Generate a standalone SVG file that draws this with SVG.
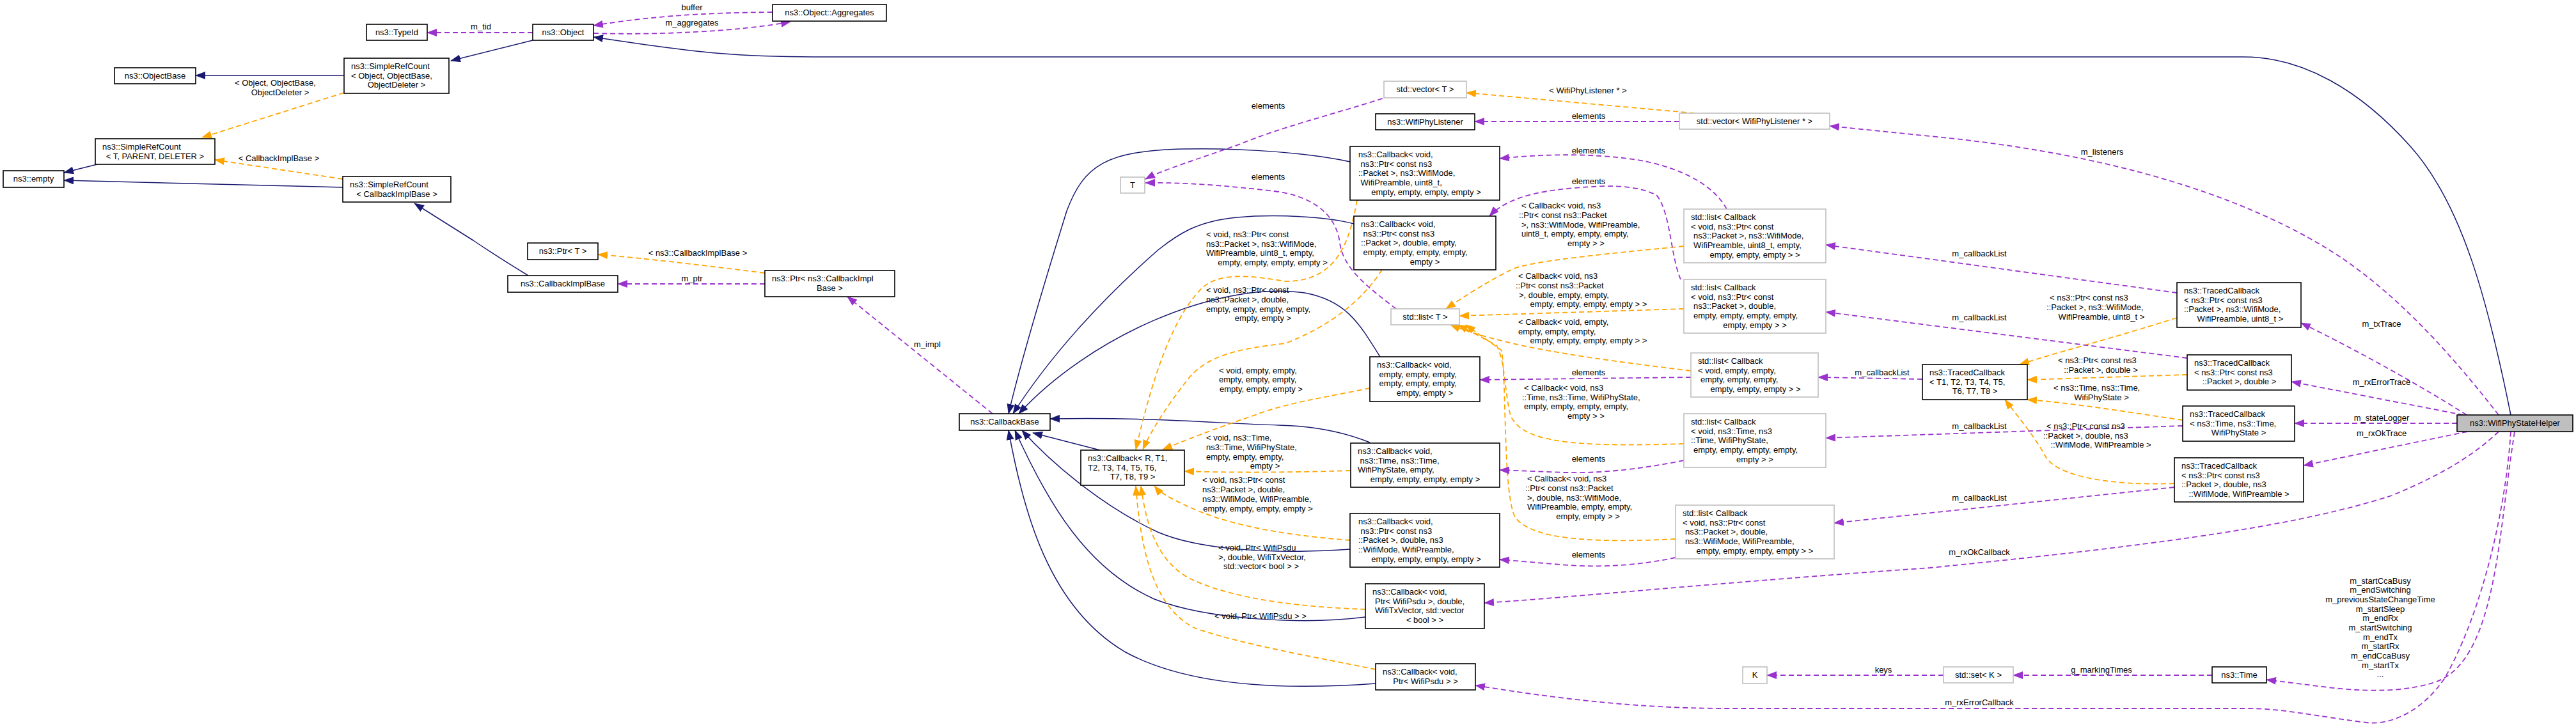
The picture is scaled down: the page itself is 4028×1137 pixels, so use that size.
<svg xmlns="http://www.w3.org/2000/svg" width="4028" height="1137" viewBox="0 0 4028 1137">
<defs>
<style>
text{font-family:"Liberation Sans",Arial,sans-serif;font-size:13px;fill:#000}
.m{text-anchor:middle}
.node rect{fill:#fff;stroke:#000;stroke-width:1.6}
.node.u rect{stroke:#bfbfbf}
.node.me rect{fill:#bfbfbf}
#edges path{fill:none}
.nv{stroke:#191970;stroke-width:1.5;marker-end:url(#aNv)}
.pu{stroke:#9a32cd;stroke-width:1.8;stroke-dasharray:8,5;marker-end:url(#aPu)}
.or{stroke:#ffa500;stroke-width:1.8;stroke-dasharray:8,5;marker-end:url(#aOr)}
</style>
<marker id="aNv" viewBox="0 0 16 12" refX="15" refY="6" markerWidth="16" markerHeight="12" markerUnits="userSpaceOnUse" orient="auto"><path d="M0,0L16,6L0,12z" fill="#191970"/></marker>
<marker id="aPu" viewBox="0 0 16 12" refX="15" refY="6" markerWidth="16" markerHeight="12" markerUnits="userSpaceOnUse" orient="auto"><path d="M0,0L16,6L0,12z" fill="#9a32cd"/></marker>
<marker id="aOr" viewBox="0 0 16 12" refX="15" refY="6" markerWidth="16" markerHeight="12" markerUnits="userSpaceOnUse" orient="auto"><path d="M0,0L16,6L0,12z" fill="#ffa500"/></marker>
</defs>
<rect width="4028" height="1137" fill="#fff"/>

<g id="edges">
<!-- inheritance -->
<path class="nv" d="M538,118L306,118"/>
<path class="nv" d="M833,63L705,95"/>
<path class="nv" d="M152,257L100,270"/>
<path class="nv" d="M536,293L100,282"/>
<path class="nv" d="M826,431C795,412 765,393 740,376L648,318"/>
<path class="nv" d="M3926,649C3890,470 3850,320 3770,230C3690,140 3600,89 3508,89L1277,89C1150,89 1080,80 1010,70L928,58"/>
<path class="nv" d="M2111,253C2050,240 1950,231 1850,233C1730,236 1695,258 1668,330C1640,420 1600,550 1577,647"/>
<path class="nv" d="M2117,350C2080,340 2000,334 1934,340C1870,346 1840,368 1812,390C1720,470 1640,560 1584,647"/>
<path class="nv" d="M2158,558C2125,505 2105,470 2040,458C1900,438 1700,530 1593,647"/>
<path class="nv" d="M2142,692C2100,675 2050,666 2000,665C1900,662 1800,652 1642,655"/>
<path class="nv" d="M2111,859C1980,868 1870,858 1810,832C1720,790 1640,720 1598,673"/>
<path class="nv" d="M2135,965C2040,977 1890,970 1805,937C1700,890 1640,790 1587,673"/>
<path class="nv" d="M2151,1069C2070,1075 1880,1085 1760,1020C1640,950 1600,800 1577,673"/>
<path class="nv" d="M1720,704L1615,677"/>
<!-- template instances -->
<path class="or" d="M538,145L316,215"/>
<path class="or" d="M536,280L336,250"/>
<path class="or" d="M1196,427C1100,415 1000,403 935,398"/>
<path class="or" d="M2650,177L2293,145"/>
<path class="or" d="M2633,385C2500,398 2400,408 2367,420C2330,438 2295,460 2261,483"/>
<path class="or" d="M2633,483L2282,494"/>
<path class="or" d="M2644,580C2500,562 2360,545 2268,508"/>
<path class="or" d="M2633,694C2450,700 2380,690 2362,650C2352,610 2354,565 2340,540L2280,508"/>
<path class="or" d="M2620,843C2480,850 2395,842 2370,810C2350,780 2356,600 2348,548L2292,508"/>
<path class="or" d="M2122,313C2110,380 2090,440 2010,440C1960,432 1910,424 1880,450C1830,500 1800,600 1776,703"/>
<path class="or" d="M2161,422C2130,470 2080,510 2010,537C1940,545 1890,555 1860,590C1820,640 1797,680 1787,703"/>
<path class="or" d="M2142,607C2080,620 2010,630 1960,650C1900,670 1850,690 1818,703"/>
<path class="or" d="M2112,736C2050,738 1950,740 1852,737"/>
<path class="or" d="M2111,845C2050,840 1950,830 1876,800C1840,785 1815,772 1805,760"/>
<path class="or" d="M2135,953C2050,950 1930,940 1857,903C1800,870 1790,800 1784,760"/>
<path class="or" d="M2151,1047C2070,1030 1950,1010 1870,983C1800,950 1783,850 1776,760"/>
<path class="or" d="M3404,497C3300,530 3220,550 3158,570"/>
<path class="or" d="M3420,586L3170,594"/>
<path class="or" d="M3413,657C3330,645 3240,630 3170,625"/>
<path class="or" d="M3400,756C3300,760 3215,745 3198,713C3180,680 3150,645 3135,625"/>
<!-- usage -->
<path class="pu" d="M833,51L668,51"/>
<path class="pu" d="M1208,19C1100,20 1020,25 928,40"/>
<path class="pu" d="M928,52C1000,54 1060,52 1120,48C1170,44 1205,40 1236,34"/>
<path class="pu" d="M1196,444L966,444"/>
<path class="pu" d="M1552,647L1325,464"/>
<path class="pu" d="M2162,154C2080,180 2000,200 1940,225C1870,250 1820,265 1791,280"/>
<path class="pu" d="M2183,483C2140,450 2100,420 2095,380C2090,340 2060,310 2000,300C1920,290 1850,285 1791,286"/>
<path class="pu" d="M2626,190L2306,190"/>
<path class="pu" d="M2700,327C2680,290 2630,262 2560,250C2480,238 2400,242 2345,248"/>
<path class="pu" d="M2628,437C2612,400 2612,330 2590,305C2560,290 2520,290 2490,292C2420,296 2360,305 2329,338"/>
<path class="pu" d="M2644,590L2314,594"/>
<path class="pu" d="M2633,720C2560,735 2500,740 2450,739L2345,735"/>
<path class="pu" d="M2620,872C2560,885 2500,888 2440,883L2345,875"/>
<path class="pu" d="M3404,458L2855,383"/>
<path class="pu" d="M3420,560L2855,488"/>
<path class="pu" d="M3006,593L2843,590"/>
<path class="pu" d="M3413,666L2855,685"/>
<path class="pu" d="M3400,762L2868,818"/>
<path class="pu" d="M3907,649C3830,550 3740,450 3636,387C3500,305 3300,240 3018,213L2861,197"/>
<path class="pu" d="M3857,649C3780,600 3680,545 3598,505"/>
<path class="pu" d="M3852,649L3583,597"/>
<path class="pu" d="M3842,662L3588,662"/>
<path class="pu" d="M3858,675L3602,728"/>
<path class="pu" d="M3907,675C3860,720 3800,750 3740,775C3600,820 3400,850 3018,888C2700,910 2450,935 2321,943"/>
<path class="pu" d="M3932,675C3925,720 3920,760 3915,800C3900,920 3880,1040 3810,1066C3760,1083 3700,1082 3640,1075L3544,1063"/>
<path class="pu" d="M3926,675C3918,800 3880,960 3823,1060C3790,1110 3740,1135 3700,1130C3620,1120 3570,1108 3514,1108L2700,1108C2550,1108 2420,1090 2307,1072"/>
<path class="pu" d="M3459,1056L3148,1056"/>
<path class="pu" d="M3039,1056L2763,1056"/>
</g>

<g id="edge-labels">
<text class="m" x="752" y="46">m_tid</text>
<text class="m" x="1082" y="16">buffer</text>
<text class="m" x="1082" y="40">m_aggregates</text>
<text x="367" y="134">&lt; Object, ObjectBase,</text>
<text class="m" x="438" y="149">ObjectDeleter &gt;</text>
<text class="m" x="436" y="252">&lt; CallbackImplBase &gt;</text>
<text class="m" x="1091" y="400">&lt; ns3::CallbackImplBase &gt;</text>
<text class="m" x="1082" y="440">m_ptr</text>
<text class="m" x="1450" y="543">m_impl</text>
<text class="m" x="1983" y="170">elements</text>
<text class="m" x="1983" y="281">elements</text>
<text class="m" x="2483" y="146">&lt; WifiPhyListener * &gt;</text>
<text class="m" x="2484" y="186">elements</text>
<text class="m" x="2484" y="240">elements</text>
<text class="m" x="2484" y="288">elements</text>
<text><tspan x="2379" y="326">&lt; Callback&lt; void, ns3</tspan><tspan x="2375" y="341">::Ptr&lt; const ns3::Packet</tspan><tspan x="2379" y="356">&gt;, ns3::WifiMode, WifiPreamble,</tspan><tspan x="2379" y="370">uint8_t, empty, empty, empty,</tspan><tspan class="m" x="2480" y="385">empty &gt; &gt;</tspan></text>
<text><tspan x="2374" y="436">&lt; Callback&lt; void, ns3</tspan><tspan x="2370" y="451">::Ptr&lt; const ns3::Packet</tspan><tspan x="2375" y="466">&gt;, double, empty, empty,</tspan><tspan class="m" x="2484" y="480">empty, empty, empty, empty &gt; &gt;</tspan></text>
<text><tspan x="2374" y="508">&lt; Callback&lt; void, empty,</tspan><tspan x="2374" y="523">empty, empty, empty,</tspan><tspan class="m" x="2484" y="537">empty, empty, empty, empty &gt; &gt;</tspan></text>
<text class="m" x="2484" y="587">elements</text>
<text><tspan x="2383" y="611">&lt; Callback&lt; void, ns3</tspan><tspan x="2380" y="626">::Time, ns3::Time, WifiPhyState,</tspan><tspan x="2383" y="640">empty, empty, empty, empty,</tspan><tspan class="m" x="2480" y="655">empty &gt; &gt;</tspan></text>
<text class="m" x="2484" y="722">elements</text>
<text><tspan x="2388" y="753">&lt; Callback&lt; void, ns3</tspan><tspan x="2385" y="768">::Ptr&lt; const ns3::Packet</tspan><tspan x="2388" y="783">&gt;, double, ns3::WifiMode,</tspan><tspan x="2388" y="797">WifiPreamble, empty, empty,</tspan><tspan class="m" x="2483" y="812">empty, empty &gt; &gt;</tspan></text>
<text class="m" x="2484" y="872">elements</text>
<text><tspan x="1886" y="371">&lt; void, ns3::Ptr&lt; const</tspan><tspan x="1886" y="386">ns3::Packet &gt;, ns3::WifiMode,</tspan><tspan x="1886" y="400">WifiPreamble, uint8_t, empty,</tspan><tspan class="m" x="1990" y="415">empty, empty, empty, empty &gt;</tspan></text>
<text><tspan x="1886" y="458">&lt; void, ns3::Ptr&lt; const</tspan><tspan x="1886" y="473">ns3::Packet &gt;, double,</tspan><tspan x="1886" y="488">empty, empty, empty, empty,</tspan><tspan class="m" x="1975" y="502">empty, empty &gt;</tspan></text>
<text><tspan x="1906" y="584">&lt; void, empty, empty,</tspan><tspan x="1906" y="598">empty, empty, empty,</tspan><tspan class="m" x="1972" y="613">empty, empty, empty &gt;</tspan></text>
<text><tspan x="1886" y="689">&lt; void, ns3::Time,</tspan><tspan x="1886" y="704">ns3::Time, WifiPhyState,</tspan><tspan x="1886" y="719">empty, empty, empty,</tspan><tspan class="m" x="1978" y="733">empty &gt;</tspan></text>
<text><tspan x="1880" y="755">&lt; void, ns3::Ptr&lt; const</tspan><tspan x="1880" y="770">ns3::Packet &gt;, double,</tspan><tspan x="1880" y="785">ns3::WifiMode, WifiPreamble,</tspan><tspan class="m" x="1967" y="800">empty, empty, empty, empty &gt;</tspan></text>
<text><tspan x="1905" y="861">&lt; void, Ptr&lt; WifiPsdu</tspan><tspan x="1905" y="876">&gt;, double, WifiTxVector,</tspan><tspan class="m" x="1972" y="890">std::vector&lt; bool &gt; &gt;</tspan></text>
<text x="1899" y="968">&lt; void, Ptr&lt; WifiPsdu &gt; &gt;</text>
<text class="m" x="3095" y="401">m_callbackList</text>
<text class="m" x="3095" y="501">m_callbackList</text>
<text class="m" x="2943" y="587">m_callbackList</text>
<text class="m" x="3095" y="671">m_callbackList</text>
<text class="m" x="3095" y="783">m_callbackList</text>
<text><tspan x="3205" y="470">&lt; ns3::Ptr&lt; const ns3</tspan><tspan x="3200" y="485">::Packet &gt;, ns3::WifiMode,</tspan><tspan class="m" x="3286" y="500">WifiPreamble, uint8_t &gt;</tspan></text>
<text><tspan x="3218" y="568">&lt; ns3::Ptr&lt; const ns3</tspan><tspan class="m" x="3285" y="583">::Packet &gt;, double &gt;</tspan></text>
<text><tspan x="3211" y="611">&lt; ns3::Time, ns3::Time,</tspan><tspan class="m" x="3286" y="626">WifiPhyState &gt;</tspan></text>
<text><tspan x="3200" y="671">&lt; ns3::Ptr&lt; const ns3</tspan><tspan x="3195" y="686">::Packet &gt;, double, ns3</tspan><tspan class="m" x="3285" y="700">::WifiMode, WifiPreamble &gt;</tspan></text>
<text class="m" x="3287" y="242">m_listeners</text>
<text class="m" x="3724" y="511">m_txTrace</text>
<text class="m" x="3724" y="602">m_rxErrorTrace</text>
<text class="m" x="3724" y="658">m_stateLogger</text>
<text class="m" x="3724" y="682">m_rxOkTrace</text>
<text class="m" x="3095" y="868">m_rxOkCallback</text>
<text class="m" x="3722"><tspan x="3722" y="913">m_startCcaBusy</tspan><tspan x="3722" y="927">m_endSwitching</tspan><tspan x="3722" y="942">m_previousStateChangeTime</tspan><tspan x="3722" y="957">m_startSleep</tspan><tspan x="3722" y="971">m_endRx</tspan><tspan x="3722" y="986">m_startSwitching</tspan><tspan x="3722" y="1001">m_endTx</tspan><tspan x="3722" y="1015">m_startRx</tspan><tspan x="3722" y="1030">m_endCcaBusy</tspan><tspan x="3722" y="1045">m_startTx</tspan><tspan x="3722" y="1059">...</tspan></text>
<text class="m" x="3286" y="1052">g_markingTimes</text>
<text class="m" x="2945" y="1052">keys</text>
<text class="m" x="3095" y="1103">m_rxErrorCallback</text>
</g>

<g id="n_typeid" class="node"><rect x="573" y="38" width="95" height="25"/><text class="m" x="620.5" y="55">ns3::TypeId</text></g>
<g id="n_object" class="node"><rect x="833" y="38" width="95" height="25"/><text class="m" x="880.5" y="55">ns3::Object</text></g>
<g id="n_aggregates" class="node"><rect x="1208" y="7" width="178" height="26"/><text class="m" x="1297" y="24">ns3::Object::Aggregates</text></g>
<g id="n_objectbase" class="node"><rect x="179" y="106" width="127" height="25"/><text class="m" x="242.5" y="123">ns3::ObjectBase</text></g>
<g id="n_src_object" class="node"><rect x="538" y="91" width="164" height="55"/><text x="549" y="108">ns3::SimpleRefCount</text><text x="549" y="122.7">&lt; Object, ObjectBase,</text><text class="m" x="620" y="137.4">ObjectDeleter &gt;</text></g>
<g id="n_src_t" class="node"><rect x="149" y="217" width="187" height="40"/><text x="160" y="234">ns3::SimpleRefCount</text><text class="m" x="242.5" y="248.7">&lt; T, PARENT, DELETER &gt;</text></g>
<g id="n_empty" class="node"><rect x="5" y="267" width="95" height="26"/><text class="m" x="52.5" y="284">ns3::empty</text></g>
<g id="n_src_cib" class="node"><rect x="536" y="276" width="169" height="40"/><text x="547" y="293">ns3::SimpleRefCount</text><text class="m" x="620.5" y="307.7">&lt; CallbackImplBase &gt;</text></g>
<g id="n_ptr_t" class="node"><rect x="825" y="380" width="110" height="26"/><text class="m" x="880" y="397">ns3::Ptr&lt; T &gt;</text></g>
<g id="n_callbackimplbase" class="node"><rect x="794" y="431" width="172" height="26"/><text class="m" x="880" y="448">ns3::CallbackImplBase</text></g>
<g id="n_ptr_cib" class="node"><rect x="1196" y="423" width="203" height="41"/><text x="1207" y="440">ns3::Ptr&lt; ns3::CallbackImpl</text><text class="m" x="1297.5" y="454.7">Base &gt;</text></g>
<g id="n_callbackbase" class="node"><rect x="1500" y="647" width="142" height="26"/><text class="m" x="1571" y="664">ns3::CallbackBase</text></g>
<g id="n_callback_r" class="node"><rect x="1690" y="704" width="162" height="55"/><text x="1701" y="721">ns3::Callback&lt; R, T1,</text><text x="1701" y="735.7">T2, T3, T4, T5, T6,</text><text class="m" x="1771" y="750.4">T7, T8, T9 &gt;</text></g>
<g id="n_t" class="node u"><rect x="1752" y="277" width="38" height="25"/><text class="m" x="1771" y="294">T</text></g>
<g id="n_vector_t" class="node u"><rect x="2164" y="127" width="129" height="26"/><text class="m" x="2228.5" y="144">std::vector&lt; T &gt;</text></g>
<g id="n_wifiphylistener" class="node"><rect x="2151" y="178" width="155" height="25"/><text class="m" x="2228.5" y="195">ns3::WifiPhyListener</text></g>
<g id="n_vector_wpl" class="node u"><rect x="2626" y="177" width="235" height="25"/><text class="m" x="2743.5" y="194">std::vector&lt; WifiPhyListener * &gt;</text></g>
<g id="n_cb_a" class="node"><rect x="2111" y="229" width="234" height="84"/><text x="2124" y="246">ns3::Callback&lt; void,</text><text x="2127.6" y="260.7">ns3::Ptr&lt; const ns3</text><text x="2124" y="275.4">::Packet &gt;, ns3::WifiMode,</text><text x="2127.6" y="290.1">WifiPreamble, uint8_t,</text><text class="m" x="2230" y="304.8">empty, empty, empty, empty &gt;</text></g>
<g id="n_cb_b" class="node"><rect x="2117" y="338" width="222" height="84"/><text x="2128" y="355">ns3::Callback&lt; void,</text><text x="2131.6" y="369.7">ns3::Ptr&lt; const ns3</text><text x="2128" y="384.4">::Packet &gt;, double, empty,</text><text x="2131.6" y="399.1">empty, empty, empty, empty,</text><text class="m" x="2228" y="413.8">empty &gt;</text></g>
<g id="n_list_t" class="node u"><rect x="2175" y="483" width="107" height="25"/><text class="m" x="2228.5" y="500">std::list&lt; T &gt;</text></g>
<g id="n_cb_c" class="node"><rect x="2142" y="558" width="172" height="70"/><text x="2153" y="575">ns3::Callback&lt; void,</text><text x="2156.6" y="589.7">empty, empty, empty,</text><text x="2156.6" y="604.4">empty, empty, empty,</text><text class="m" x="2228" y="619.1">empty, empty &gt;</text></g>
<g id="n_cb_d" class="node"><rect x="2112" y="693" width="233" height="69"/><text x="2123" y="710">ns3::Callback&lt; void,</text><text x="2126.6" y="724.7">ns3::Time, ns3::Time,</text><text x="2123" y="739.4">WifiPhyState, empty,</text><text class="m" x="2228.5" y="754.1">empty, empty, empty, empty &gt;</text></g>
<g id="n_cb_e" class="node"><rect x="2111" y="803" width="234" height="84"/><text x="2124" y="820">ns3::Callback&lt; void,</text><text x="2127.6" y="834.7">ns3::Ptr&lt; const ns3</text><text x="2124" y="849.4">::Packet &gt;, double, ns3</text><text x="2124" y="864.1">::WifiMode, WifiPreamble,</text><text class="m" x="2230" y="878.8">empty, empty, empty, empty &gt;</text></g>
<g id="n_cb_f" class="node"><rect x="2135" y="913" width="186" height="70"/><text x="2146" y="930">ns3::Callback&lt; void,</text><text x="2150" y="944.7">Ptr&lt; WifiPsdu &gt;, double,</text><text x="2150" y="959.4">WifiTxVector, std::vector</text><text class="m" x="2228" y="974.1">&lt; bool &gt; &gt;</text></g>
<g id="n_cb_g" class="node"><rect x="2151" y="1038" width="156" height="41"/><text x="2162" y="1055">ns3::Callback&lt; void,</text><text class="m" x="2229" y="1069.7">Ptr&lt; WifiPsdu &gt; &gt;</text></g>
<g id="n_list_a" class="node u"><rect x="2633" y="327" width="222" height="84"/><text x="2644" y="344">std::list&lt; Callback</text><text x="2644" y="358.7">&lt; void, ns3::Ptr&lt; const</text><text x="2648" y="373.4">ns3::Packet &gt;, ns3::WifiMode,</text><text x="2648" y="388.1">WifiPreamble, uint8_t, empty,</text><text class="m" x="2744" y="402.8">empty, empty, empty &gt; &gt;</text></g>
<g id="n_list_b" class="node u"><rect x="2633" y="437" width="222" height="84"/><text x="2644" y="454">std::list&lt; Callback</text><text x="2644" y="468.7">&lt; void, ns3::Ptr&lt; const</text><text x="2648" y="483.4">ns3::Packet &gt;, double,</text><text x="2648" y="498.1">empty, empty, empty, empty,</text><text class="m" x="2744" y="512.8">empty, empty &gt; &gt;</text></g>
<g id="n_list_c" class="node u"><rect x="2644" y="552" width="199" height="69"/><text x="2655" y="569">std::list&lt; Callback</text><text x="2655" y="583.7">&lt; void, empty, empty,</text><text x="2659" y="598.4">empty, empty, empty,</text><text class="m" x="2745" y="613.1">empty, empty, empty &gt; &gt;</text></g>
<g id="n_list_d" class="node u"><rect x="2633" y="647" width="222" height="84"/><text x="2644" y="664">std::list&lt; Callback</text><text x="2644" y="678.7">&lt; void, ns3::Time, ns3</text><text x="2644" y="693.4">::Time, WifiPhyState,</text><text x="2648" y="708.1">empty, empty, empty, empty,</text><text class="m" x="2744" y="722.8">empty &gt; &gt;</text></g>
<g id="n_list_e" class="node u"><rect x="2620" y="790" width="248" height="84"/><text x="2631" y="807">std::list&lt; Callback</text><text x="2631" y="821.7">&lt; void, ns3::Ptr&lt; const</text><text x="2635" y="836.4">ns3::Packet &gt;, double,</text><text x="2635" y="851.1">ns3::WifiMode, WifiPreamble,</text><text class="m" x="2744" y="865.8">empty, empty, empty, empty &gt; &gt;</text></g>
<g id="n_tc_t" class="node"><rect x="3006" y="570" width="164" height="55"/><text x="3017" y="587">ns3::TracedCallback</text><text x="3017" y="601.7">&lt; T1, T2, T3, T4, T5,</text><text class="m" x="3088" y="616.4">T6, T7, T8 &gt;</text></g>
<g id="n_tc_a" class="node"><rect x="3404" y="442" width="194" height="70"/><text x="3415" y="459">ns3::TracedCallback</text><text x="3415" y="473.7">&lt; ns3::Ptr&lt; const ns3</text><text x="3415" y="488.4">::Packet &gt;, ns3::WifiMode,</text><text class="m" x="3503" y="503.1">WifiPreamble, uint8_t &gt;</text></g>
<g id="n_tc_b" class="node"><rect x="3420" y="555" width="163" height="55"/><text x="3431" y="572">ns3::TracedCallback</text><text x="3431" y="586.7">&lt; ns3::Ptr&lt; const ns3</text><text class="m" x="3501.5" y="601.4">::Packet &gt;, double &gt;</text></g>
<g id="n_tc_c" class="node"><rect x="3413" y="635" width="175" height="55"/><text x="3424" y="652">ns3::TracedCallback</text><text x="3424" y="666.7">&lt; ns3::Time, ns3::Time,</text><text class="m" x="3500.5" y="681.4">WifiPhyState &gt;</text></g>
<g id="n_tc_d" class="node"><rect x="3400" y="716" width="202" height="69"/><text x="3411" y="733">ns3::TracedCallback</text><text x="3411" y="747.7">&lt; ns3::Ptr&lt; const ns3</text><text x="3411" y="762.4">::Packet &gt;, double, ns3</text><text class="m" x="3501" y="777.1">::WifiMode, WifiPreamble &gt;</text></g>
<g id="n_wifiphystatehelper" class="node me"><rect x="3842" y="649" width="181" height="26"/><text class="m" x="3932.5" y="666">ns3::WifiPhyStateHelper</text></g>
<g id="n_k" class="node u"><rect x="2725" y="1043" width="38" height="26"/><text class="m" x="2744" y="1060">K</text></g>
<g id="n_set_k" class="node u"><rect x="3039" y="1043" width="109" height="25"/><text class="m" x="3093.5" y="1060">std::set&lt; K &gt;</text></g>
<g id="n_time" class="node"><rect x="3459" y="1043" width="85" height="25"/><text class="m" x="3501.5" y="1060">ns3::Time</text></g>
</svg>
